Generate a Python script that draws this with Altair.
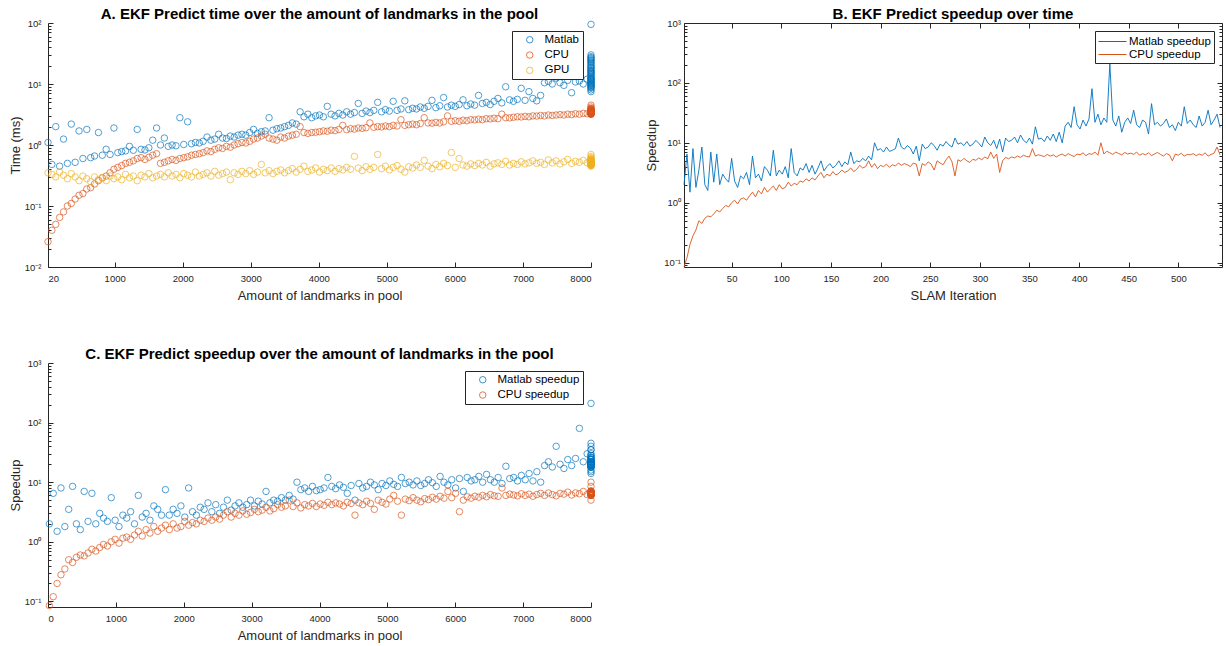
import altair as alt
import pandas as pd

FONT = "Liberation Sans, Arial, Helvetica, sans-serif"
AX = "#262626"
BLUE, ORANGE, YELLOW = "#0072BD", "#D95319", "#EDB120"

# ---------------- data ----------------
iterations = [
    2, 5, 8, 11, 14, 17, 20, 23, 26, 29,
    32, 35, 38, 41, 44, 47, 50, 53, 56, 59,
    62, 65, 68, 71, 74, 77, 80, 83, 86, 89,
    92, 95, 98, 101, 104, 107, 110, 113, 116, 119,
    122, 125, 128, 131, 134, 137, 140, 143, 146, 149,
    152, 155, 158, 161, 164, 167, 170, 173, 176, 179,
    182, 185, 188, 191, 194, 197, 200, 203, 206, 209,
    212, 215, 218, 221, 224, 227, 230, 233, 236, 239,
    242, 245, 248, 251, 254, 257, 260, 263, 266, 269,
    272, 275, 278, 281, 284, 287, 290, 293, 296, 299,
    302, 305, 308, 311, 314, 317, 320, 323, 326, 329,
    332, 335, 338, 341, 344, 347, 350, 353, 356, 359,
    362, 365, 368, 371, 374, 377, 380, 383, 386, 389,
    392, 395, 398, 401, 404, 407, 410, 413, 416, 419,
    422, 425, 428, 431, 434, 437, 440, 443, 446, 449,
    452, 455, 458, 461, 464, 467, 470, 473, 476, 479,
    482, 485, 488, 491, 494, 497, 500, 503, 506, 509,
    512, 515, 518, 521, 524, 527, 530, 533, 536, 539, 542]

landmarks = [
    20, 77, 134, 191, 248, 305, 362, 419, 476, 533,
    590, 647, 704, 761, 818, 875, 932, 989, 1046, 1103,
    1160, 1217, 1274, 1331, 1388, 1445, 1502, 1559, 1616, 1673,
    1730, 1787, 1844, 1901, 1958, 2015, 2072, 2129, 2186, 2243,
    2300, 2357, 2414, 2471, 2528, 2585, 2642, 2699, 2756, 2813,
    2870, 2927, 2984, 3041, 3098, 3155, 3212, 3269, 3326, 3383,
    3440, 3497, 3554, 3611, 3668, 3725, 3782, 3839, 3896, 3953,
    4010, 4067, 4124, 4181, 4238, 4295, 4352, 4409, 4466, 4523,
    4580, 4637, 4694, 4751, 4808, 4865, 4922, 4979, 5036, 5093,
    5150, 5207, 5264, 5321, 5378, 5435, 5492, 5549, 5606, 5663,
    5720, 5777, 5834, 5891, 5948, 6005, 6062, 6119, 6176, 6233,
    6290, 6347, 6404, 6461, 6518, 6575, 6632, 6689, 6746, 6803,
    6860, 6917, 6974, 7031, 7088, 7145, 7202, 7259, 7316, 7373,
    7430, 7487, 7544, 7601, 7658, 7715, 7772, 7829, 7886, 7943,
    8000, 8000, 8000, 8000, 8000, 8000, 8000, 8000, 8000, 8000,
    8000, 8000, 8000, 8000, 8000, 8000, 8000, 8000, 8000, 8000,
    8000, 8000, 8000, 8000, 8000, 8000, 8000, 8000, 8000, 8000,
    8000, 8000, 8000, 8000, 8000, 8000, 8000, 8000, 8000, 8000, 8000]

matlab_time = [
    1.1, 0.48, 2.0, 0.45, 1.25, 0.5, 2.2, 0.52, 1.7, 0.6,
    1.8, 0.62, 0.66, 1.6, 0.68, 0.85, 0.7, 1.9, 0.75, 0.78,
    0.8, 0.95, 0.82, 1.8, 0.85, 0.83, 0.9, 1.2, 1.9, 1.0,
    1.3, 0.95, 1.0, 0.97, 2.8, 1.02, 2.4, 1.05, 1.1, 1.08,
    1.15, 1.35, 1.2, 1.25, 1.5, 1.3, 1.28, 1.4, 1.35, 1.45,
    1.5, 1.45, 1.6, 1.8, 1.55, 1.65, 1.7, 2.8, 1.75, 1.85,
    1.9, 2.0, 2.1, 2.3, 2.2, 3.5, 2.9, 3.2, 2.8, 3.0,
    3.1, 2.9, 4.3, 3.2, 3.0, 3.3, 3.1, 3.5, 3.2, 3.4,
    4.8, 3.3, 3.6, 3.4, 3.7, 5.0, 3.5, 3.8, 3.6, 5.2,
    3.7, 3.9, 5.3, 3.8, 4.0, 3.9, 4.2, 4.0, 4.3, 5.4,
    4.1, 4.4, 6.0, 4.2, 4.5, 4.3, 4.6, 5.5, 4.4, 4.7,
    4.5, 6.5, 4.8, 5.0, 4.6, 5.2, 5.8, 4.9, 9.0, 5.5,
    5.2, 5.6, 8.5, 5.4, 7.5, 5.8, 5.3, 6.5, 10.5, 11.0,
    10.0, 12.5, 10.5, 9.5, 11.5, 7.2, 10.8, 11.2, 10.0, 12.0,
    95, 25, 18, 10, 22, 8.5, 14, 11, 28, 9,
    16, 12, 20, 7.5, 13, 24, 10.5, 17, 9.5, 15,
    11.5, 26, 8, 19, 12.5, 13.5, 21, 9.8, 16.5, 10.2,
    30, 14.5, 8.8, 18.5, 11.8, 23, 12.2, 15.5, 9.2, 27, 10.8]

cpu_time = [
    0.026, 0.04, 0.05, 0.065, 0.08, 0.1, 0.11, 0.13, 0.15, 0.16,
    0.19, 0.2, 0.23, 0.26, 0.29, 0.31, 0.35, 0.4, 0.43, 0.46,
    0.5, 0.52, 0.55, 0.6, 0.62, 0.58, 0.63, 0.68, 0.72, 0.5,
    0.52, 0.55, 0.58, 0.56, 0.6, 0.62, 0.64, 0.68, 0.7, 0.72,
    0.75, 0.8, 0.78, 0.85, 0.9, 0.88, 0.95, 0.92, 1.0, 1.05,
    1.1, 1.08, 1.15, 1.25, 1.3, 1.4, 1.5, 1.3, 1.25, 1.2,
    1.35, 1.3, 1.4, 1.45, 1.5, 2.0, 1.6, 1.55, 1.6, 1.62,
    1.65, 1.7, 1.68, 1.75, 1.72, 1.8, 2.1, 1.78, 1.85, 1.82,
    1.9, 1.88, 1.92, 2.3, 1.95, 2.0, 1.98, 2.05, 2.0, 2.1,
    2.05, 2.6, 2.1, 2.15, 2.2, 2.15, 2.25, 2.8, 2.3, 2.28,
    2.35, 2.3, 2.4, 3.0, 2.45, 2.5, 2.45, 2.55, 2.5, 2.6,
    2.58, 2.65, 2.6, 2.7, 2.68, 2.75, 2.7, 3.2, 2.8, 2.78,
    2.85, 2.9, 2.88, 2.95, 2.9, 3.0, 2.98, 3.05, 3.0, 3.1,
    3.05, 3.1, 3.15, 3.1, 3.2, 3.15, 3.25, 3.2, 3.3, 3.25,
    3.3, 3.5, 3.2, 3.8, 3.4, 3.6, 3.3, 4.2, 3.5, 3.4,
    3.7, 3.3, 3.9, 3.5, 3.2, 3.6, 4.5, 3.4, 3.3, 3.5,
    3.8, 3.4, 3.6, 3.3, 3.5, 4.0, 3.4, 3.2, 3.6, 3.5,
    3.3, 3.7, 3.4, 3.5, 3.3, 3.9, 3.4, 3.6, 3.5, 3.3, 3.4]

gpu_time = [
    0.35, 0.33, 0.30, 0.36, 0.32, 0.28, 0.34, 0.30, 0.26, 0.31,
    0.28, 0.25, 0.30, 0.27, 0.29, 0.26, 0.31, 0.28, 0.30, 0.27,
    0.33, 0.29, 0.31, 0.26, 0.32, 0.30, 0.34, 0.29, 0.31, 0.33,
    0.30, 0.35, 0.31, 0.33, 0.29, 0.34, 0.32, 0.30, 0.36, 0.31,
    0.33, 0.35, 0.31, 0.37, 0.32, 0.34, 0.36, 0.27, 0.35, 0.33,
    0.37, 0.34, 0.38, 0.33, 0.36, 0.48, 0.35, 0.38, 0.34, 0.37,
    0.39, 0.35, 0.38, 0.41, 0.36, 0.40, 0.45, 0.37, 0.39, 0.42,
    0.36, 0.40, 0.38, 0.42, 0.37, 0.41, 0.39, 0.43, 0.40, 0.65,
    0.42, 0.38, 0.44, 0.40, 0.43, 0.70, 0.41, 0.45, 0.39, 0.43,
    0.46, 0.40, 0.36, 0.44, 0.42, 0.47, 0.43, 0.56, 0.45, 0.41,
    0.48, 0.44, 0.50, 0.46, 0.75, 0.43, 0.60, 0.47, 0.45, 0.49,
    0.46, 0.50, 0.47, 0.52, 0.45, 0.49, 0.51, 0.48, 0.54, 0.47,
    0.50, 0.48, 0.53, 0.49, 0.51, 0.55, 0.50, 0.52, 0.48, 0.57,
    0.51, 0.55, 0.49, 0.53, 0.58, 0.50, 0.54, 0.52, 0.56, 0.51,
    0.52, 0.55, 0.48, 0.60, 0.50, 0.53, 0.45, 0.57, 0.51, 0.54,
    0.49, 0.62, 0.52, 0.47, 0.55, 0.50, 0.58, 0.53, 0.46, 0.51,
    0.56, 0.49, 0.54, 0.70, 0.52, 0.48, 0.55, 0.50, 0.53, 0.47,
    0.57, 0.51, 0.49, 0.54, 0.52, 0.65, 0.50, 0.53, 0.48, 0.55, 0.51]

matlab_speedup = [
    2.0, 6.5, 1.5, 8.0, 1.8, 3.5, 8.5, 2.0, 1.6, 7.0,
    2.2, 6.5, 2.0, 3.0, 2.5, 2.2, 5.5, 2.3, 1.8, 2.8,
    2.5, 3.2, 2.0, 6.0, 2.6, 3.0, 2.3, 4.0, 3.5, 2.8,
    7.5, 2.8, 3.5, 3.0, 4.0, 2.6, 8.0, 3.2, 2.8, 3.8,
    3.5, 4.5, 3.2, 4.2, 3.0, 3.8, 5.0, 3.4, 4.0, 4.5,
    3.8, 4.2, 5.0, 4.0, 4.8, 4.3, 7.0, 4.5, 5.0, 4.8,
    5.5, 5.0, 6.0, 5.2, 10.0, 7.5, 8.0, 7.0, 8.5, 7.2,
    7.5, 8.0, 12.0, 8.5, 7.8, 9.0, 8.2, 6.5, 8.8, 5.0,
    9.5, 8.0, 8.5, 10.0, 9.0, 7.5, 9.5, 8.8, 10.5, 9.2,
    8.5, 12.0, 9.5, 10.0, 9.0, 10.5, 8.8, 9.5, 11.0, 9.8,
    8.5, 12.5, 10.0, 9.0, 11.0, 8.0, 11.5, 7.0, 12.0, 10.5,
    11.0, 12.5, 10.0, 13.5, 11.0, 10.0, 12.0, 9.5, 18.5, 11.5,
    12.0, 10.5, 13.0, 11.0, 14.0, 10.5, 15.0, 10.0, 19.0, 22.0,
    18.0, 40.0, 20.0, 17.0, 24.0, 19.0, 25.0, 80.0, 22.0, 30.0,
    20.0, 26.0, 22.0, 210.0, 24.0, 19.0, 28.0, 15.0, 22.0, 26.0,
    21.0, 35.0, 20.0, 18.0, 24.0, 22.0, 14.0, 45.0, 20.0, 22.0,
    19.0, 21.0, 25.0, 18.0, 20.0, 16.0, 22.0, 19.0, 40.0, 21.0,
    24.0, 20.0, 18.0, 28.0, 19.0, 22.0, 35.0, 20.0, 24.0, 30.0, 18.0]

cpu_speedup = [
    0.085, 0.12, 0.2, 0.28, 0.35, 0.5, 0.45, 0.55, 0.6, 0.58,
    0.65, 0.75, 0.7, 0.8, 0.9, 0.85, 1.0, 1.1, 0.95, 1.15,
    1.2, 1.1, 1.3, 1.5, 1.25, 1.6, 1.4, 1.8, 1.5, 1.7,
    1.9, 1.6, 2.0, 1.7, 1.8, 2.2, 1.9, 2.1, 2.0, 2.3,
    2.2, 2.5, 2.3, 2.6, 2.4, 2.8, 3.2, 2.6, 3.0, 2.8,
    3.3, 2.9, 3.1, 3.5, 3.2, 3.4, 3.8, 3.3, 3.6, 4.2,
    3.8, 4.0, 5.0, 3.9, 4.5, 3.7, 4.2, 4.0, 4.4, 3.9,
    4.3, 4.1, 4.6, 4.2, 4.5, 4.3, 4.0, 4.6, 4.4, 2.8,
    4.5, 4.2, 4.8, 4.4, 3.5, 5.0, 4.6, 4.3, 5.2, 6.0,
    4.8, 2.8, 5.2, 4.9, 5.5, 5.0, 4.7, 5.3, 5.1, 5.6,
    5.2, 5.8, 5.4, 7.0, 5.5, 6.5, 3.2, 5.0, 5.7, 5.4,
    5.8, 5.6, 6.0, 5.7, 6.2, 5.9, 5.8, 8.0, 6.0, 6.3,
    6.1, 5.9, 6.4, 6.0, 6.3, 5.8, 6.2, 6.5, 6.0, 6.6,
    6.2, 5.9, 6.5, 6.3, 6.8, 6.1, 6.6, 6.4, 7.0, 6.2,
    10.0, 6.5, 7.2, 6.8, 6.4, 7.0, 6.6, 6.3, 6.9, 6.5,
    6.7, 6.4, 7.0, 6.2, 6.6, 6.3, 6.8, 6.1, 6.5, 6.9,
    6.4, 6.0, 6.6, 6.3, 5.0, 6.5, 6.2, 6.7, 6.0, 6.4,
    6.3, 6.6, 6.1, 6.5, 6.2, 6.8, 6.0, 6.4, 6.7, 8.5, 6.3]

time_series = ["Matlab", "CPU", "GPU"]
speed_series = ["Matlab speedup", "CPU speedup"]
x_ticks_a = [20, 1000, 2000, 3000, 4000, 5000, 6000, 7000, 8000]
x_ticks_b = [50, 100, 150, 200, 250, 300, 350, 400, 450, 500]
x_ticks_c = [0, 1000, 2000, 3000, 4000, 5000, 6000, 7000, 8000]

n = len(iterations)
time_df = pd.DataFrame({
    "landmarks": landmarks * 3,
    "value": matlab_time + cpu_time + gpu_time,
    "series": ["Matlab"] * n + ["CPU"] * n + ["GPU"] * n,
})
speed_df = pd.DataFrame({
    "iteration": iterations * 2,
    "landmarks": landmarks * 2,
    "value": matlab_speedup + cpu_speedup,
    "series": ["Matlab speedup"] * n + ["CPU speedup"] * n,
})

# ---------------- helpers ----------------
def majors(lo, hi):
    return [10.0 ** e for e in range(lo, hi + 1)]


def minors(lo_exp, hi_exp, lo, hi):
    vals = [m * 10.0 ** e for e in range(lo_exp, hi_exp) for m in range(2, 10)]
    return [v for v in vals if lo <= v <= hi]


E = "round(log(datum.value)/LN10)"
SUP = {-2: "10⁻²", -1: "10⁻¹", 0: "10⁰", 1: "10¹", 2: "10²", 3: "10³"}
LABEL_EXPR = " : ".join(f"{E} == {k} ? '{v}'" for k, v in SUP.items()) + " : ''"


def main_axis(values, title, box, **kw):
    return alt.Axis(values=values, title=title, ticks=False, tickSize=0,
                    domain=not box, domainColor=AX, domainWidth=1, grid=False, **kw)


def ghost_axis(values, orient, offset, size):
    return alt.Axis(values=values, orient=orient, offset=offset, labels=False,
                    domain=False, ticks=True, tickSize=size, tickColor=AX,
                    tickWidth=1, grid=False, title="")


def legend(kind):
    common = dict(title=None, orient="top-right", offset=8, fillColor="white",
                  strokeColor=AX, padding=3,
                  labelFont=FONT, labelFontSize=11.5, labelColor="black")
    if kind == "circle":
        return alt.Legend(symbolType="circle", symbolSize=42, symbolStrokeWidth=0.9,
                          symbolOffset=9, labelOffset=9, rowPadding=2.3, **common)
    return alt.Legend(symbolType="M-2,0L2,0", symbolSize=196, symbolStrokeWidth=1,
                      symbolOffset=7, labelOffset=9, rowPadding=0, **common)


def title(text):
    return alt.Title(text, font=FONT, fontSize=15, fontWeight="bold", color="black",
                     anchor="middle", frame="group", offset=-4)


def panel(df, xfield, xdom, xticks, xtitle, ydom, yexp, ytitle, series, colors,
          w, h, mark, box, ytitle_pad, ylabel_pad, ttl):
    xs = alt.Scale(domain=xdom, nice=False, zero=False)
    ys = alt.Scale(type="log", domain=ydom, nice=False)
    ymaj = [v for v in majors(*yexp) if ydom[0] <= v <= ydom[1]]
    ymin = minors(yexp[0] - 1, yexp[1], ydom[0], ydom[1])
    color = alt.Color("series:N", scale=alt.Scale(domain=series, range=colors),
                      legend=legend("circle" if mark == "point" else "stroke"))
    if mark == "point":
        m = alt.Chart(df).mark_point(filled=False, size=42, strokeWidth=0.8, opacity=0.85)
    else:
        m = alt.Chart(df).mark_line(strokeWidth=0.9)
    main = m.encode(
        x=alt.X(f"{xfield}:Q", scale=xs,
                axis=main_axis(xticks, xtitle, box, format="d",
                               labelPadding=6, titlePadding=7)),
        y=alt.Y("value:Q", scale=ys,
                axis=main_axis(ymaj, ytitle, box, labelExpr=LABEL_EXPR,
                               labelPadding=ylabel_pad, titlePadding=ytitle_pad)),
        color=color,
    )
    ghost = alt.Chart(df).mark_point(opacity=0, size=1)
    layers = [main]
    # ticks along left and bottom edges, pointing inwards
    layers.append(ghost.encode(
        x=alt.X(f"{xfield}:Q", scale=xs, axis=ghost_axis(xticks, "top", -h, 5)),
        y=alt.Y("value:Q", scale=ys, axis=ghost_axis(ymaj, "right", -w, 5))))
    layers.append(ghost.encode(
        x=alt.X(f"{xfield}:Q", scale=xs, axis=None),
        y=alt.Y("value:Q", scale=ys, axis=ghost_axis(ymin, "right", -w, 3))))
    if box:
        # ticks along top and right edges, pointing inwards
        layers.append(ghost.encode(
            x=alt.X(f"{xfield}:Q", scale=xs, axis=ghost_axis(xticks, "bottom", -h, 5)),
            y=alt.Y("value:Q", scale=ys, axis=ghost_axis(ymaj, "left", -w, 5))))
        layers.append(ghost.encode(
            x=alt.X(f"{xfield}:Q", scale=xs, axis=None),
            y=alt.Y("value:Q", scale=ys, axis=ghost_axis(ymin, "left", -w, 3))))
    ch = alt.layer(*layers).resolve_axis(x="independent", y="independent")
    props = dict(width=w, height=h, title=title(ttl))
    if box:
        props["view"] = alt.ViewBackground(stroke=AX, strokeWidth=1)
    return ch.properties(**props)


chart_a = panel(time_df, "landmarks", [20, 8000], x_ticks_a, "Amount of landmarks in pool",
                [0.01, 100], (-2, 2), "Time (ms)", time_series, [BLUE, ORANGE, YELLOW],
                543, 244, "point", False, 2, 7,
                "A. EKF Predict time over the amount of landmarks in the pool")
chart_b = panel(speed_df, "iteration", [2, 544], x_ticks_b, "SLAM Iteration",
                [0.0844, 1000], (-1, 3), "Speedup", speed_series, [BLUE, ORANGE],
                538, 244, "line", True, 5, 3.5,
                "B. EKF Predict speedup over time")
chart_c = panel(speed_df, "landmarks", [0, 8000], x_ticks_c, "Amount of landmarks in pool",
                [0.0805, 1000], (-1, 3), "Speedup", speed_series, [BLUE, ORANGE],
                543, 244, "point", False, 2, 7,
                "C. EKF Predict speedup over the amount of landmarks in the pool")

chart = alt.concat(chart_a, chart_b, chart_c, columns=2, bounds="flush",
                   spacing={"row": 96, "column": 93}).resolve_scale(
    color="independent").resolve_legend(color="independent").properties(
    padding={"left": 9, "top": 6, "right": 0, "bottom": 0},
    background="white",
).configure_view(stroke=None).configure_axis(
    labelFont=FONT, labelFontSize=9.5, labelColor=AX,
    titleFont=FONT, titleFontSize=13, titleFontWeight="normal", titleColor=AX,
).configure_title(font=FONT)

chart.save("out.html", embed_options={"renderer": "svg", "actions": False})
